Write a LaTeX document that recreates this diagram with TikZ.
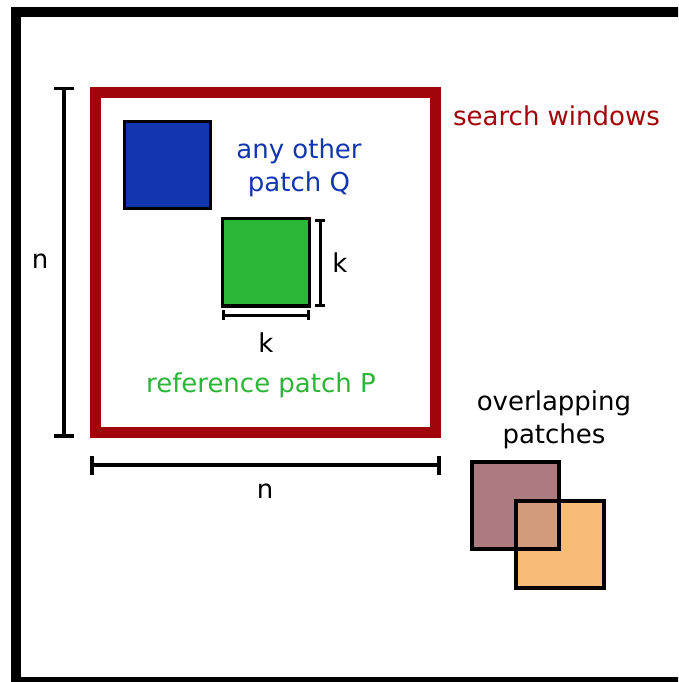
\documentclass[tikz,border=0pt]{standalone}
\usepackage{fontspec}
\setmainfont{DejaVu Sans}
\definecolor{winred}{HTML}{A0050A}
\definecolor{qblue}{HTML}{1236AF}
\definecolor{pgreen}{HTML}{2BB637}
\definecolor{mauve}{HTML}{AD7A80}
\definecolor{orangep}{HTML}{F8BC78}
\definecolor{overlapc}{HTML}{D19B7C}
\tikzset{
  lbl/.style={inner sep=0pt, font=\fontsize{26}{33}\selectfont, align=center},
  patchbox/.style={draw=black, line width=3.5pt},
  dimline/.style={draw=black, line width=3.5pt},
  smalldim/.style={draw=black, line width=3pt},
}
\begin{document}
\begin{tikzpicture}[x=1pt,y=-1pt]
\useasboundingbox (0,0) rectangle (678,682);
\clip (0,0) rectangle (678,682);
\fill[white] (0,0) rectangle (678,682);
% outer frame
\draw[line width=10pt] (16,12.5) rectangle (700,682);
% search window
\draw[winred, line width=11pt] (95.5,93) rectangle (435,432.5);
% patches
\draw[patchbox, fill=qblue] (124.5,121.5) rectangle (210.5,208.5);
\draw[patchbox, fill=pgreen] (222.5,218.5) rectangle (309.5,306);
% overlapping patches
\fill[mauve] (472,462) rectangle (559,549);
\fill[orangep] (516,501) rectangle (604,588);
\fill[overlapc] (516,501) rectangle (559,549);
\draw[patchbox] (472,462) rectangle (559,549);
\draw[patchbox] (516,501) rectangle (604,588);
% dimension coordinates
\coordinate (nvt) at (64,88.5);
\coordinate (nvb) at (64,436);
\coordinate (nht) at (92,465);
\coordinate (nhb) at (439,465);
\coordinate (kvt) at (320,220.5);
\coordinate (kvb) at (320,305);
\coordinate (kht) at (223.5,315);
\coordinate (khb) at (308.5,315);
% n vertical
\draw[dimline] (nvt) -- (nvb);
\draw[dimline] ([xshift=-10pt]nvt) -- ([xshift=10pt]nvt);
\draw[dimline] ([xshift=-10pt]nvb) -- ([xshift=10pt]nvb);
% n horizontal
\draw[dimline] (nht) -- (nhb);
\draw[dimline] ([yshift=-9.5pt]nht) -- ([yshift=9.5pt]nht);
\draw[dimline] ([yshift=-9.5pt]nhb) -- ([yshift=9.5pt]nhb);
% k vertical
\draw[smalldim] (kvt) -- (kvb);
\draw[smalldim] ([xshift=-5pt]kvt) -- ([xshift=5pt]kvt);
\draw[smalldim] ([xshift=-5pt]kvb) -- ([xshift=5pt]kvb);
% k horizontal
\draw[smalldim] (kht) -- (khb);
\draw[smalldim] ([yshift=-5pt]kht) -- ([yshift=5pt]kht);
\draw[smalldim] ([yshift=-5pt]khb) -- ([yshift=5pt]khb);
% labels
\node[lbl, text=winred] (tsw) at (556.5,115.5) {search windows};
\node[lbl, text=qblue] (tq) at (299,168) {any other\\patch Q};
\node[lbl, text=pgreen] (tp) at (261,385) {reference patch P};
\node[lbl] (tkv) at (340,263) {k};
\node[lbl] (tkh) at (266,343) {k};
\node[lbl] (tnv) at (40,261) {n};
\node[lbl] (tnh) at (265,491) {n};
\node[lbl] (tov) at (554,420) {overlapping\\patches};
\end{tikzpicture}
\end{document}
